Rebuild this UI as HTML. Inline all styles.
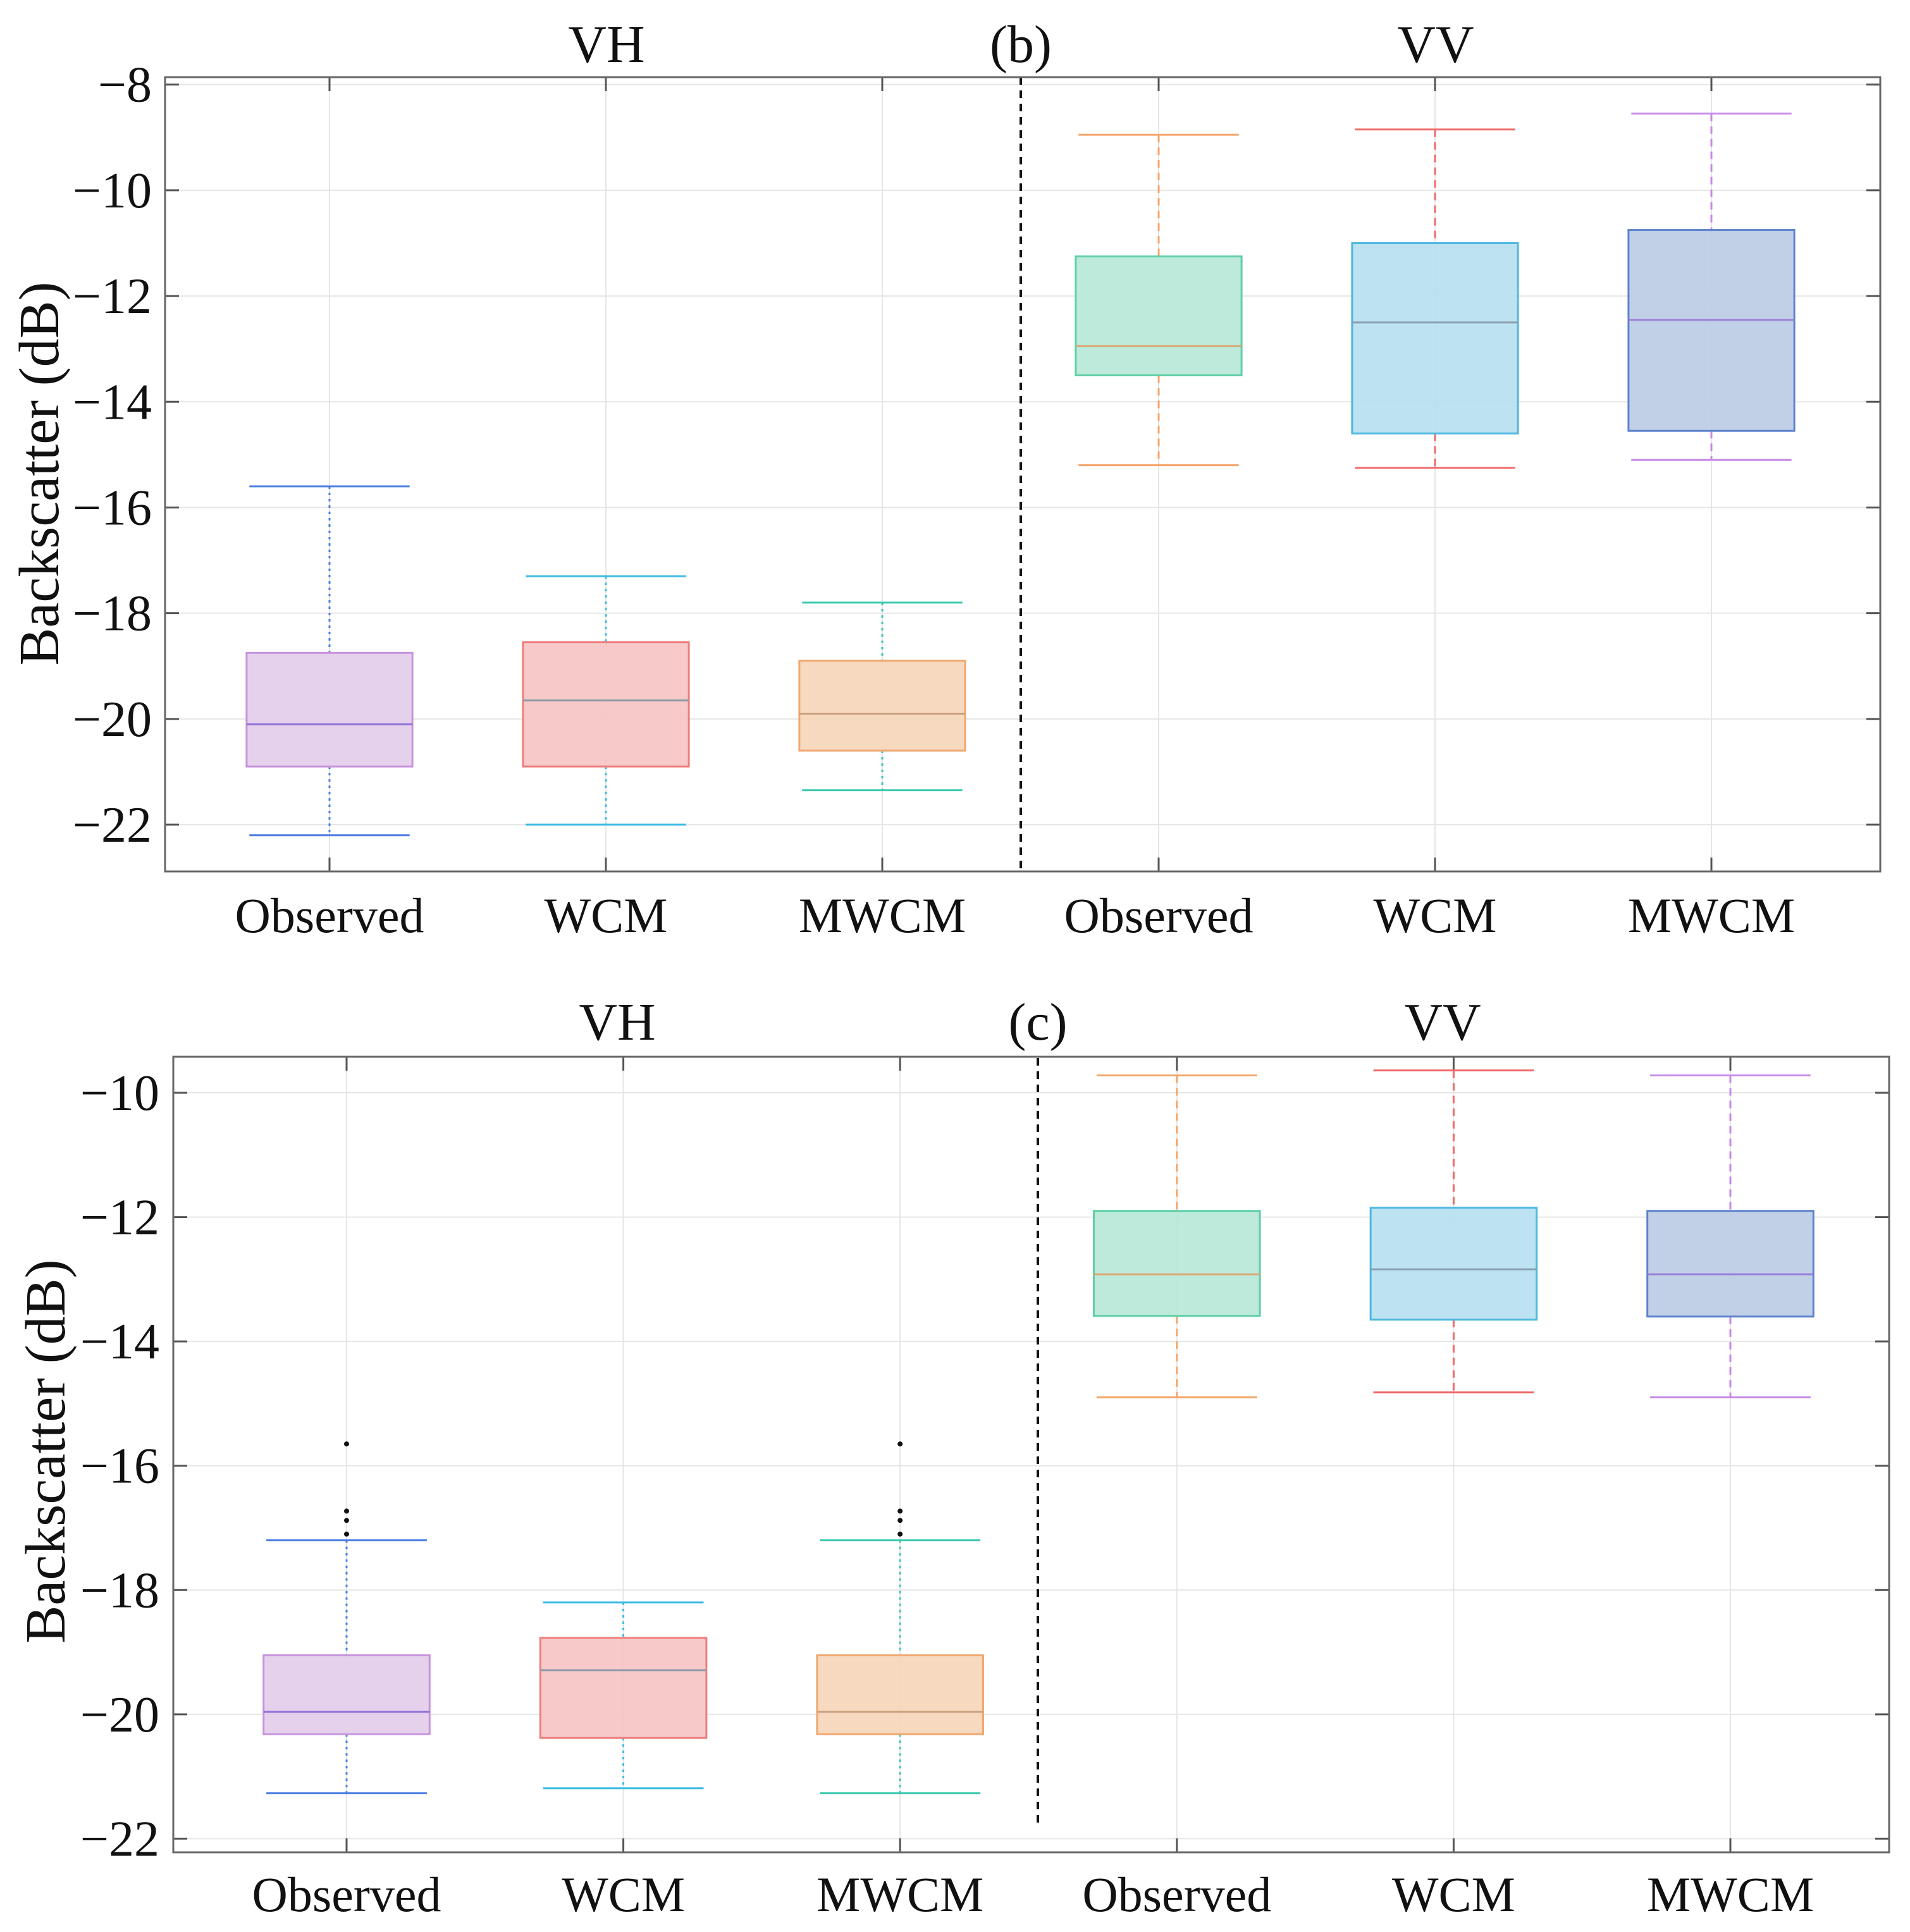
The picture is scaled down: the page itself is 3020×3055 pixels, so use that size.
<!DOCTYPE html>
<html><head><meta charset="utf-8"><style>
html,body{margin:0;padding:0;background:#fff}
svg{display:block}
text{font-family:"Liberation Serif",serif;fill:#111}
</style></head><body>
<svg id="fig" width="3020" height="3055" viewBox="0 0 3020 3055" xmlns="http://www.w3.org/2000/svg"></svg>
<script>
const categories = ["Observed","WCM","MWCM","Observed","WCM","MWCM"];
// panel b: [whiskerLow, Q1, median, Q3, whiskerHigh]
const panelBLow = [-22.2,-22.0,-21.35,-15.2,-15.25,-15.1];
const panelBQ1 = [-20.9,-20.9,-20.6,-13.5,-14.6,-14.55];
const panelBMed = [-20.1,-19.65,-19.9,-12.95,-12.5,-12.45];
const panelBQ3 = [-18.75,-18.55,-18.9,-11.25,-11.0,-10.75];
const panelBHigh = [-15.6,-17.3,-17.8,-8.95,-8.85,-8.55];
const panelBTicks = [-8,-10,-12,-14,-16,-18,-20,-22];
// panel c
const panelCLow = [-21.27,-21.19,-21.27,-14.9,-14.82,-14.9];
const panelCQ1 = [-20.32,-20.38,-20.32,-13.59,-13.65,-13.6];
const panelCMed = [-19.96,-19.29,-19.96,-12.92,-12.84,-12.92];
const panelCQ3 = [-19.05,-18.77,-19.05,-11.9,-11.85,-11.9];
const panelCHigh = [-17.2,-18.2,-17.2,-9.72,-9.64,-9.72];
const panelCOutliers = [[-15.65,-16.73,-16.88,-17.1],[],[-15.65,-16.73,-16.88,-17.1],[],[],[]];
const panelCTicks = [-10,-12,-14,-16,-18,-20,-22];

const fills = ["#e4cdea","#f6c4c4","#f5d6b9","#b7e8d7","#b7dff0","#bccce4"];
const strokes = ["#c793de","#ee7d7d","#efa870","#5fcfa5","#4cb8e0","#5d82cc"];
const whiskerCols = ["#4d7fe0","#3dbbe3","#3cc9b0","#f5a56b","#f06a6a","#c78ae6"];
const medCols = ["#8a6fd8","#8a9aa8","#c9a07f","#d8a878","#8aa0b0","#9a7fd8"];
const dashes = ["4,6","4,6","4,6","12,8","12,8","12,8"];

const NS="http://www.w3.org/2000/svg";
const svg=document.getElementById('fig');
function el(tag,attrs,parent){const e=document.createElementNS(NS,tag);for(const k in attrs)e.setAttribute(k,attrs[k]);(parent||svg).appendChild(e);return e;}

function panel(cfg){
  const g=el('g',{});
  
  
  const {L,T,R,B,yTopV,yBotV,x1,dx}=cfg;
  const y=v=>T+(v-yTopV)/(yBotV-yTopV)*(B-T);
  const x=i=>x1+i*dx;
  cfg.ticks.forEach(t=>{
    const gl=el('line',{x1:L,x2:R,y1:y(t),y2:y(t),stroke:'#e6e6e6','stroke-width':2},g);
    
    
    el('line',{x1:L,x2:L+22,y1:y(t),y2:y(t),stroke:'#555','stroke-width':3},g);
    el('line',{x1:R-22,x2:R,y1:y(t),y2:y(t),stroke:'#555','stroke-width':3},g);
    const tl=el('text',{x:cfg.tickX,y:y(t)+27,'text-anchor':'end','font-size':80},g);
    tl.textContent='\u2212'+Math.abs(t);
    
    
  });
  categories.forEach((c,i)=>{
    const gl=el('line',{x1:x(i),x2:x(i),y1:T,y2:B,stroke:'#e6e6e6','stroke-width':2},g);
    
    
    el('line',{x1:x(i),x2:x(i),y1:T,y2:T+22,stroke:'#555','stroke-width':3},g);
    el('line',{x1:x(i),x2:x(i),y1:B-22,y2:B,stroke:'#555','stroke-width':3},g);
    const cl=el('text',{x:x(i),y:cfg.catY,'text-anchor':'middle','font-size':78},g);
    cl.textContent=c;
    
    
  });
  const bw=dx*0.6, cw=dx*0.29;
  categories.forEach((c,i)=>{
    const bg=el('g',{},g);
    
    
    const lo=cfg.low[i],q1=cfg.q1[i],md=cfg.med[i],q3=cfg.q3[i],hi=cfg.high[i];
    el('line',{x1:x(i),x2:x(i),y1:y(hi),y2:y(q3),stroke:whiskerCols[i],'stroke-width':3,'stroke-dasharray':dashes[i]},bg);
    el('line',{x1:x(i),x2:x(i),y1:y(q1),y2:y(lo),stroke:whiskerCols[i],'stroke-width':3,'stroke-dasharray':dashes[i]},bg);
    el('line',{x1:x(i)-cw,x2:x(i)+cw,y1:y(hi),y2:y(hi),stroke:whiskerCols[i],'stroke-width':3},bg);
    el('line',{x1:x(i)-cw,x2:x(i)+cw,y1:y(lo),y2:y(lo),stroke:whiskerCols[i],'stroke-width':3},bg);
    el('rect',{x:x(i)-bw/2,y:y(q3),width:bw,height:y(q1)-y(q3),fill:fills[i],stroke:strokes[i],'stroke-width':3,'fill-opacity':0.92},bg);
    el('line',{x1:x(i)-bw/2,x2:x(i)+bw/2,y1:y(md),y2:y(md),stroke:medCols[i],'stroke-width':3},bg);
    (cfg.outliers?cfg.outliers[i]:[]).forEach(o=>{
      const d=el('circle',{cx:x(i),cy:y(o),r:4,fill:'#111'},bg);
      
      
    });
  });
  const sep=el('line',{x1:cfg.sepX,x2:cfg.sepX,y1:cfg.sepY1,y2:cfg.sepY2,stroke:'#111','stroke-width':4,'stroke-dasharray':'12,9'},g);
  
  
  const ax=el('rect',{x:L,y:T,width:R-L,height:B-T,fill:'none',stroke:'#666','stroke-width':3},g);
  
  
  [['VH',cfg.vhX,'vh-title'],[cfg.label,cfg.sepX,'panel-label'],['VV',cfg.vvX,'vv-title']].forEach(a=>{
    const t=el('text',{x:a[1],y:cfg.titleY,'text-anchor':'middle','font-size':84},g);
    t.textContent=a[0];
    
    
  });
  const yl=el('text',{x:0,y:0,'text-anchor':'middle','font-size':90,transform:`translate(${cfg.ylX},${cfg.ylY}) rotate(-90)`},g);
  yl.textContent='Backscatter (dB)';
  
  
}

panel({name:'panel-b',L:261,T:122,R:2973,B:1378,yTopV:-7.86,yBotV:-22.885,x1:521,dx:437,
  ticks:panelBTicks,tickX:240,catY:1474,low:panelBLow,q1:panelBQ1,med:panelBMed,q3:panelBQ3,high:panelBHigh,
  sepX:1614,sepY1:122,sepY2:1378,label:'(b)',titleY:98,vhX:959,vvX:2270,ylX:92,ylY:749});
panel({name:'panel-c',L:274,T:1671,R:2987,B:2929,yTopV:-9.42,yBotV:-22.22,x1:548,dx:437.6,
  ticks:panelCTicks,tickX:252,catY:3022,low:panelCLow,q1:panelCQ1,med:panelCMed,q3:panelCQ3,high:panelCHigh,outliers:panelCOutliers,
  sepX:1641,sepY1:1673,sepY2:2890,label:'(c)',titleY:1644,vhX:976,vvX:2281,ylX:102,ylY:2295});
</script>
</body></html>
